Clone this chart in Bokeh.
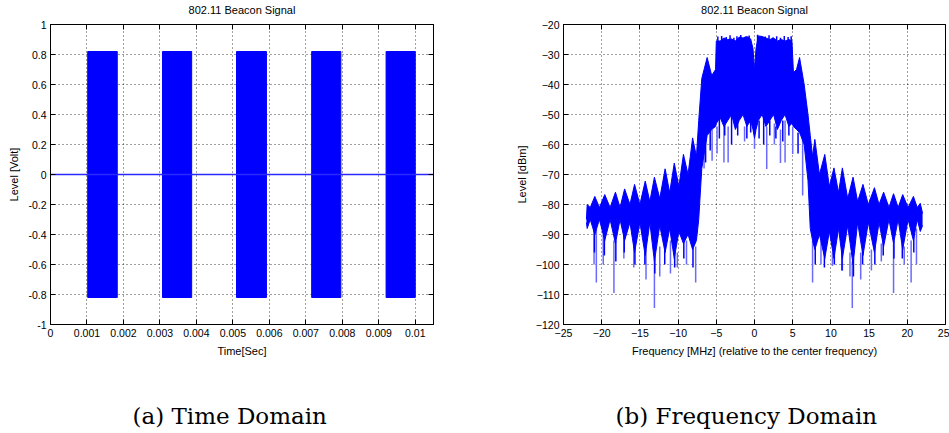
import numpy as np
from bokeh.plotting import figure
from bokeh.layouts import row
from bokeh.models import LinearAxis, FixedTicker, CustomJSTickFormatter, Title, Range1d
from bokeh.embed import file_html
from bokeh.resources import INLINE

# ---------------- data ----------------
# time domain: beacon bursts (seconds) and amplitude (volt)
burst_start = [0.00102, 0.00307, 0.00510, 0.00716, 0.00920]
burst_end = [0.00183, 0.00387, 0.00592, 0.00796, 0.01000]
burst_amp = [0.82, 0.82, 0.82, 0.82, 0.82]
idle_t = [0.0, 0.0105]
idle_v = [0.0, 0.0]

time_ticks = [0, 0.001, 0.002, 0.003, 0.004, 0.005, 0.006, 0.007, 0.008, 0.009, 0.01]
volt_ticks = [-1, -0.8, -0.6, -0.4, -0.2, 0, 0.2, 0.4, 0.6, 0.8, 1]

# frequency domain: envelope of the spectrum (MHz, dBm)
spec_freq = [-22.0, -21.9, -21.5, -20.9, -20.3, -19.6, -18.9, -18.2, -17.6, -17.0,
             -16.3, -15.7, -15.0, -14.3, -13.7, -13.1, -12.4, -11.7, -11.1, -10.5,
             -9.9, -9.3, -8.7, -8.1, -7.6, -7.3, -6.9, -6.2, -5.6, -5.1,
             -5.0, -4.5, -4.0, -3.5, -3.0, -2.5, -2.0, -1.5, -1.0, -0.5,
             -0.2, 0.0, 0.2, 0.5, 1.0, 1.5, 2.0, 2.5, 3.0, 3.5,
             4.0, 4.5, 4.9, 5.1, 5.5, 5.9, 6.5, 7.0, 7.3, 7.6,
             7.9, 8.5, 9.2, 9.8, 10.4, 11.0, 11.5, 12.2, 12.9, 13.5,
             14.2, 14.9, 15.7, 16.3, 16.9, 17.6, 18.2, 18.8, 19.4, 20.1,
             20.8, 21.3, 21.7, 22.0]
spec_upper = [-85, -80, -81, -77.3, -81, -76.7, -81, -75.9, -81, -74.8,
              -80, -73.3, -80, -72.2, -79, -70.9, -78, -68.1, -76, -66.2,
              -74, -63.3, -70, -57.8, -64, -52, -38, -31, -37, -35,
              -25.5, -25.5, -24.5, -25, -24.8, -25.5, -24.2, -24.5, -24, -24.8,
              -28, -35, -28, -23.8, -24, -24.5, -25, -24.5, -25.5, -25,
              -25.5, -25, -25.5, -36, -35, -31, -40, -50, -57, -64,
              -58.3, -70, -63.3, -74, -67.8, -76, -67.8, -78, -70.9, -79,
              -73.3, -80, -74.4, -80, -75.9, -81, -76.4, -81, -76.7, -81,
              -77.3, -81, -79.6, -83]
spec_lower = [-86, -88, -85, -90, -85, -92, -85, -93, -85, -92,
              -86, -96, -86, -97, -86, -99, -87, -96, -88, -98,
              -89, -93, -90, -95, -92, -85, -68, -57, -55, -54,
              -53, -51, -54, -52, -50, -55, -52, -50, -54, -52,
              -55, -58, -55, -52, -50, -54, -52, -50, -55, -52,
              -50, -54, -53, -54, -55, -56, -60, -72, -88, -92,
              -95, -90, -98, -89, -98, -88, -98, -87, -100, -86,
              -97, -86, -96, -86, -94, -85, -93, -85, -95, -85,
              -92, -85, -89, -87]

# deep notches of the spectrum (lighter lines)
spike_freq = [-21.0, -20.7, -19.8, -18.4, -17.1, -15.8, -14.2, -13.1, -12.4, -11.0,
              -10.1, -8.9, -7.7, -6.6, -5.55, -4.9, -4.0, -3.45, -1.3, 0.0,
              1.6, 2.6, 3.4, 4.0, 5.0, 6.3, 7.6, 8.7, 10.2, 11.5,
              12.5, 12.8, 13.9, 15.3, 16.6, 18.2, 19.6, 20.5, 21.2]
spike_top = [-88, -88, -90, -92, -90, -94, -95, -98, -94, -92,
             -96, -92, -94, -60, -55, -54, -54, -54, -54, -58,
             -54, -53, -55, -52, -54, -58, -92, -92, -96, -96,
             -96, -99, -96, -95, -93, -93, -94, -92, -88]
spike_bottom = [-100, -106, -100, -109.5, -98, -101, -105, -114.5, -104, -103,
                -101, -100, -106, -68, -65.4, -63, -66, -66, -59, -61.5,
                -68.2, -60, -66.2, -66, -63.2, -77, -106, -100, -100.5, -102,
                -104, -114.5, -105, -102, -99, -109.5, -100, -106, -100]

# shorter dense notches (solid lines)
notch_freq = [-20.95, -19.65, -18.15, -17.05, -15.65, -14.35, -13.05, -11.75, -10.45, -9.25,
              -8.05, -6.4, -5.8, -4.6, -3.9, -3.0, -2.2, -1.0, -0.5, 0.6,
              1.2, 2.0, 2.8, 3.7, 4.5, 5.7, 7.95, 9.15, 10.45, 11.45,
              12.95, 14.15, 15.75, 16.85, 18.25, 19.35, 20.85]
notch_top = [-88, -90, -92, -90, -94, -95, -97, -94, -96, -92,
             -94, -56, -55, -51, -53, -50, -52, -53, -52, -52,
             -50, -52, -54, -52, -53, -56, -94, -96, -96, -96,
             -98, -95, -94, -92, -92, -93, -90]
notch_bottom = [-96, -97, -99, -96, -100, -100, -103, -100, -101, -98,
                -101, -66, -62, -58, -57, -60, -57, -58, -56, -58,
                -60, -57, -58, -59, -57, -63, -100, -101, -100, -102,
                -104, -100, -100, -97, -98, -98, -96]

# small peaks along the top of the main lobe
peak_freq = [-4.8, -4.3, -3.7, -3.2, -2.7, -2.3, -1.8, -1.2, -0.7,
             0.4, 0.9, 1.4, 1.9, 2.4, 2.9, 3.4, 3.9, 4.4, 4.8]
peak_top = [-24.0, -23.8, -24.2, -23.6, -24.4, -23.9, -23.5, -24.1, -23.7,
            -23.4, -23.8, -24.0, -23.6, -24.3, -23.9, -24.4, -23.8, -24.2, -23.9]
peak_base = [-27, -27, -27, -27, -27, -27, -27, -27, -27,
             -27, -27, -27, -27, -27, -27, -27, -27, -27, -27]

freq_ticks = [-25, -20, -15, -10, -5, 0, 5, 10, 15, 20, 25]
dbm_ticks = [-120, -110, -100, -90, -80, -70, -60, -50, -40, -30, -20]

BLUE = "#0000ff"
FONT = "Liberation Sans"
CAP_FONT = "DejaVu Serif"


def style(p, xt, yt, fmt=None, mirror_right=True):
    for ax in p.xaxis + p.yaxis:
        ax.axis_line_color = "black"
        ax.major_tick_in = 5
        ax.major_tick_out = 0
        ax.minor_tick_line_color = None
        ax.major_label_text_font = FONT
        ax.major_label_text_font_size = "10.5px"
        ax.major_label_text_color = "black"
        ax.axis_label_text_font = FONT
        ax.axis_label_text_font_size = "11px"
        ax.axis_label_text_font_style = "normal"
        ax.axis_label_text_color = "black"
        ax.major_label_standoff = 4
        ax.axis_label_standoff = 5
    p.xaxis.ticker = FixedTicker(ticks=xt)
    p.yaxis.ticker = FixedTicker(ticks=yt)
    if fmt is not None:
        p.xaxis.formatter = fmt
        p.yaxis.formatter = fmt
    for g in (p.xgrid, p.ygrid):
        g.grid_line_color = "black"
        g.grid_line_alpha = 0.75
        g.grid_line_dash = "1 3"
    p.xgrid.ticker = FixedTicker(ticks=xt)
    p.ygrid.ticker = FixedTicker(ticks=yt)
    # mirrored ticks on top (and right)
    blank = CustomJSTickFormatter(code="return '';")
    sides = [("above", xt)]
    if mirror_right:
        sides.append(("right", yt))
    for loc, tk in sides:
        ax = LinearAxis(ticker=FixedTicker(ticks=tk), formatter=blank)
        ax.axis_line_color = "black"
        ax.major_tick_in = 5
        ax.major_tick_out = 0
        ax.minor_tick_line_color = None
        ax.major_label_text_font_size = "1px"
        ax.major_label_standoff = 0
        p.add_layout(ax, loc)
    # small gap between the frame and the title
    p.add_layout(Title(text=" ", text_font_size="5px", standoff=0), "above")
    p.outline_line_color = "black"
    p.outline_line_alpha = 1
    p.background_fill_color = "white"
    p.border_fill_color = "white"
    p.title.text_font = FONT
    p.title.text_font_size = "11px"
    p.title.text_font_style = "normal"
    p.title.align = "center"
    p.title.text_color = "black"
    p.title.standoff = 2


def add_caption(p, text, shift):
    spacer = Title(text=" ", text_font_size="12px", standoff=24)
    p.add_layout(spacer, "below")
    cap = Title(text=text, align="left", text_font=CAP_FONT, offset=shift,
                text_font_size="23px", text_font_style="normal", text_color="black",
                standoff=2)
    p.add_layout(cap, "below")


fmt = CustomJSTickFormatter(code="return String(tick);")

# ---------------- (a) time domain ----------------
p1 = figure(width=470, height=433, output_backend="svg", toolbar_location=None,
            title="802.11 Beacon Signal",
            x_range=Range1d(0, 0.0105), y_range=Range1d(-1, 1),
            min_border_left=50, min_border_right=37, min_border_top=23,
            min_border_bottom=109,
            x_axis_label="Time[Sec]", y_axis_label="Level [Volt]")
p1.quad(left=burst_start, right=burst_end, top=burst_amp,
        bottom=[-a for a in burst_amp], fill_color=BLUE, line_color=BLUE)
p1.line(idle_t, idle_v, line_color="#2a2aff", line_width=1.4)
style(p1, time_ticks, volt_ticks, fmt)
add_caption(p1, "(a) Time Domain", 82)

# ---------------- (b) frequency domain ----------------
p2 = figure(width=479, height=433, output_backend="svg", toolbar_location=None,
            title="802.11 Beacon Signal",
            x_range=Range1d(-25, 25), y_range=Range1d(-120, -20),
            min_border_left=93, min_border_right=4, min_border_top=23,
            min_border_bottom=109,
            x_axis_label="Frequency [MHz] (relative to the center frequency)",
            y_axis_label="Level [dBm]")
p2.segment(x0=spike_freq, y0=spike_top, x1=spike_freq, y1=spike_bottom,
           line_color="#6a6aff", line_width=1.5)
p2.varea(x=spec_freq, y1=spec_lower, y2=spec_upper, fill_color=BLUE)
p2.line(spec_freq, spec_upper, line_color=BLUE, line_width=1)
p2.line(spec_freq, spec_lower, line_color=BLUE, line_width=1)
p2.segment(x0=notch_freq, y0=notch_top, x1=notch_freq, y1=notch_bottom,
           line_color=BLUE, line_width=1.5)
p2.segment(x0=peak_freq, y0=peak_base, x1=peak_freq, y1=peak_top,
           line_color=BLUE, line_width=1.5)
style(p2, freq_ticks, dbm_ticks, mirror_right=False)
add_caption(p2, "(b) Frequency Domain", 52)

layout = row(p1, p2)
open("out.html", "w").write(file_html(layout, INLINE))
